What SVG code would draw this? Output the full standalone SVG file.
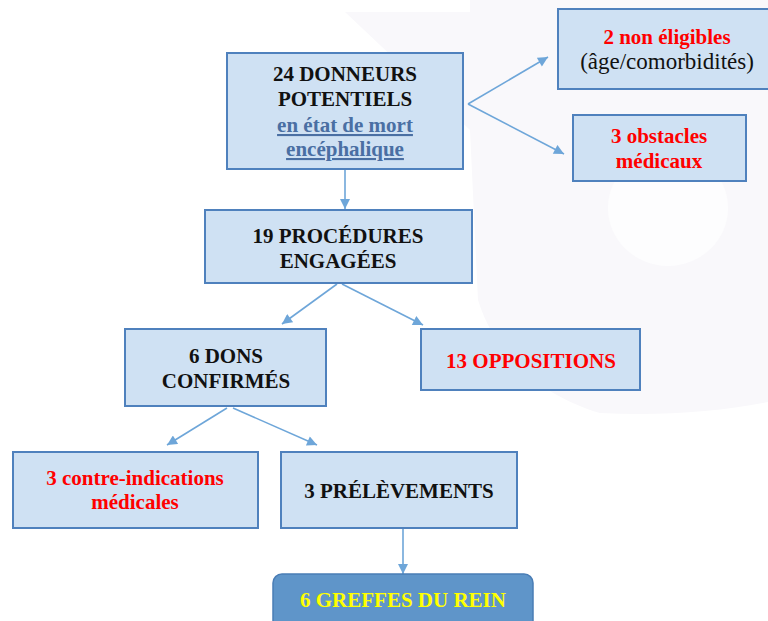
<svg xmlns="http://www.w3.org/2000/svg" width="768" height="621" viewBox="0 0 768 621">
<defs>
<style>
.box{fill:#cfe1f3;stroke:#4f81bd;stroke-width:2}
.t{font-family:"Liberation Serif","Times New Roman",serif;font-weight:bold;font-size:21px;text-anchor:middle}
.k{fill:#111}
.r{fill:#ff0000}
.u{fill:#4a6fa3;text-decoration:underline}
.n{font-weight:normal;font-size:23px}
.c{stroke:#6ea6d9;stroke-width:1.6;fill:none}
</style>
<marker id="ah" viewBox="0 0 10 10" refX="10" refY="5" markerWidth="11" markerHeight="10" markerUnits="userSpaceOnUse" orient="auto">
<path d="M0,0 L10,5 L0,10 z" fill="#6ea6d9"/>
</marker>
</defs>
<rect width="768" height="621" fill="#ffffff"/>
<g id="watermark">
<path d="M345,12 L470,12 L470,0 L768,0 L768,402 C720,412 660,416 600,413 C540,395 495,355 478,300 L470,130 Z" fill="#f9f8fb"/>
<ellipse cx="668" cy="208" rx="60" ry="58" fill="#fdfdfe"/>
</g>
<g id="connectors">
<line class="c" x1="345" y1="169" x2="345" y2="209" marker-end="url(#ah)"/>
<line class="c" x1="468" y1="104" x2="548" y2="57" marker-end="url(#ah)"/>
<line class="c" x1="468" y1="104" x2="564" y2="154" marker-end="url(#ah)"/>
<line class="c" x1="337" y1="284" x2="282" y2="324" marker-end="url(#ah)"/>
<line class="c" x1="342" y1="284" x2="423" y2="325" marker-end="url(#ah)"/>
<line class="c" x1="227" y1="408" x2="167" y2="445" marker-end="url(#ah)"/>
<line class="c" x1="233" y1="408" x2="317" y2="445" marker-end="url(#ah)"/>
<line class="c" x1="403" y1="529" x2="403" y2="574" marker-end="url(#ah)"/>
</g>
<g id="n1">
<rect class="box" x="227" y="53" width="236" height="116"/>
<text class="t k" x="345" y="81">24 DONNEURS</text>
<text class="t k" x="345" y="106">POTENTIELS</text>
<text class="t u" x="345" y="132">en état de mort</text>
<text class="t u" x="345" y="156">encéphalique</text>
</g>
<g id="n2">
<rect class="box" x="558" y="9" width="218" height="80"/>
<text class="t r" x="667" y="44">2 non éligibles</text>
<text class="t k n" x="667" y="69">(âge/comorbidités)</text>
</g>
<g id="n3">
<rect class="box" x="573" y="115" width="173" height="66"/>
<text class="t r" x="659" y="143">3 obstacles</text>
<text class="t r" x="659" y="168">médicaux</text>
</g>
<g id="n4">
<rect class="box" x="205" y="210" width="267" height="73"/>
<text class="t k" x="338" y="243">19 PROCÉDURES</text>
<text class="t k" x="338" y="268">ENGAGÉES</text>
</g>
<g id="n5">
<rect class="box" x="125" y="329" width="201" height="77"/>
<text class="t k" x="226" y="363">6 DONS</text>
<text class="t k" x="226" y="388">CONFIRMÉS</text>
</g>
<g id="n6">
<rect class="box" x="421" y="329" width="219" height="61"/>
<text class="t r" x="531" y="368">13 OPPOSITIONS</text>
</g>
<g id="n7">
<rect class="box" x="13" y="452" width="245" height="76"/>
<text class="t r" x="135" y="485">3 contre-indications</text>
<text class="t r" x="135" y="509">médicales</text>
</g>
<g id="n8">
<rect class="box" x="281" y="452" width="236" height="76"/>
<text class="t k" x="399" y="498">3 PRÉLÈVEMENTS</text>
</g>
<g id="n9">
<rect x="273" y="574" width="260" height="60" rx="9" ry="9" fill="#5f95c9" stroke="#4a7db5" stroke-width="1.5"/>
<text class="t" x="403" y="607" fill="#ffff00">6 GREFFES DU REIN</text>
</g>
</svg>
